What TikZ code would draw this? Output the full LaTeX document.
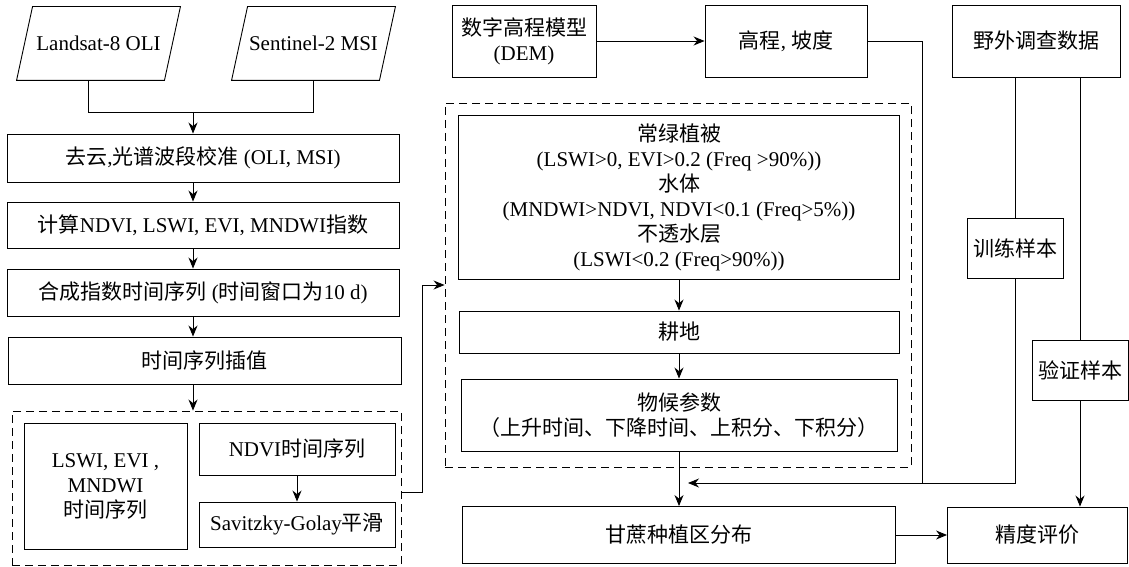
\documentclass[tikz,border=0pt]{standalone}
\usepackage{fontspec}
\setmainfont{Liberation Serif}
\newfontfamily\cjk{Noto Sans CJK SC}
\usetikzlibrary{arrows.meta,calc}
\newcommand\zh[1]{{\cjk #1}}
\begin{document}
\begin{tikzpicture}[x=1pt,y=-1pt, line width=0.9pt,
  font=\fontsize{21}{25}\selectfont,
  box/.style={draw, rectangle, inner sep=0pt, align=center},
  dbox/.style={draw, rectangle, inner sep=0pt, dash pattern=on 8pt off 5pt},
  arr/.style={-{Stealth[length=11pt,width=9pt]}}]
\useasboundingbox (0,0) rectangle (1129,567);

% input parallelograms
\node[box, draw=none, minimum width=163pt, minimum height=73pt] (lan) at (98.5,43.5) {Landsat-8 OLI};
\draw (lan.south west) -- ($(lan.north west)+(16,0)$) -- (lan.north east) -- ($(lan.south east)+(-16,0)$) -- cycle;
\node[box, draw=none, minimum width=163pt, minimum height=73pt] (sen) at (313.5,43.5) {Sentinel-2 MSI};
\draw (sen.south west) -- ($(sen.north west)+(16,0)$) -- (sen.north east) -- ($(sen.south east)+(-16,0)$) -- cycle;

% left chain
\node[box, minimum width=392pt, minimum height=48pt] (b1) at (203,158) {\zh{去云},\zh{光谱波段校准} (OLI, MSI)};
\node[box, minimum width=392pt, minimum height=46pt] (b2) at (203,225) {\zh{计算}NDVI, LSWI, EVI, MNDWI\zh{指数}};
\node[box, minimum width=392pt, minimum height=47pt] (b3) at (203,292.5) {\zh{合成指数时间序列} (\zh{时间窗口为}10 d)};
\node[box, minimum width=393pt, minimum height=47pt] (b4) at (204.5,360.5) {\zh{时间序列插值}};
\node[dbox, minimum width=389pt, minimum height=154pt] (d1) at (206.5,488) {};
\node[box, minimum width=163pt, minimum height=126pt] (lsw) at (105.5,486) {LSWI, EVI ,\\ MNDWI\\ \zh{时间序列}};
\node[box, minimum width=196pt, minimum height=52pt] (ndv) at (297,449) {NDVI\zh{时间序列}};
\node[box, minimum width=196pt, minimum height=45pt] (sav) at (297,524.5) {Savitzky-Golay\zh{平滑}};

\coordinate (m) at (193,112);
\draw ([xshift=-10pt]lan.south) |- (m);
\draw (sen.south) |- (m);
\draw[arr] (m) -- (m |- b1.north);
\draw[arr] (b1.south -| m) -- (b2.north -| m);
\draw[arr] (b2.south -| m) -- (b3.north -| m);
\draw[arr] (b3.south -| m) -- (b4.north -| m);
\draw[arr] (b4.south -| m) -- (d1.north -| m);
\draw[arr] (ndv) -- (sav);

% middle column
\node[box, minimum width=144pt, minimum height=72pt] (dem) at (524,41) {\zh{数字高程模型}\\(DEM)};
\node[box, minimum width=162pt, minimum height=72pt] (gc) at (786,41) {\zh{高程}, \zh{坡度}};
\node[dbox, minimum width=466pt, minimum height=364pt] (d2) at (678,285) {};
\node[box, minimum width=441pt, minimum height=164pt] (ev) at (679,197) {\zh{常绿植被}\\(LSWI>0, EVI>0.2 (Freq >90\%))\\\zh{水体}\\(MNDWI>NDVI, NDVI<0.1 (Freq>5\%))\\\zh{不透水层}\\(LSWI<0.2 (Freq>90\%))};
\node[box, minimum width=440pt, minimum height=42pt] (gd) at (679,332) {\zh{耕地}};
\node[box, minimum width=436pt, minimum height=72pt] (wh) at (679,415) {\zh{物候参数}\\\zh{（上升时间、下降时间、上积分、下积分）}};
\node[box, minimum width=433pt, minimum height=57pt] (gz) at (679,535) {\zh{甘蔗种植区分布}};

\draw[arr] (dem) -- (gc);
\draw[arr] (ev) -- (gd);
\draw[arr] (gd) -- (wh);
\draw[arr] (wh) -- (gz);
\coordinate (k1) at (422,492);
\draw[arr] (d1.east |- k1) -- (k1) |- (d2.west);

% right column
\node[box, minimum width=168pt, minimum height=72pt] (yw) at (1036,41) {\zh{野外调查数据}};
\node[box, minimum width=96pt, minimum height=60pt] (xl) at (1015,248) {\zh{训练样本}};
\node[box, minimum width=96pt, minimum height=60pt] (yz) at (1080,370) {\zh{验证样本}};
\node[box, minimum width=180pt, minimum height=56pt] (jd) at (1037.5,535) {\zh{精度评价}};

\coordinate (tip) at (688,483);
\coordinate (g1) at (922,483);
\draw (gc.east) -| (g1);
\draw (yw.south -| xl.north) -- (xl.north);
\draw[arr] (xl.south) |- (tip);
\draw (yw.south -| yz.north) -- (yz.north);
\draw[arr] (yz.south) -- (yz.south |- jd.north);
\draw[arr] (gz) -- (jd);
\end{tikzpicture}
\end{document}
